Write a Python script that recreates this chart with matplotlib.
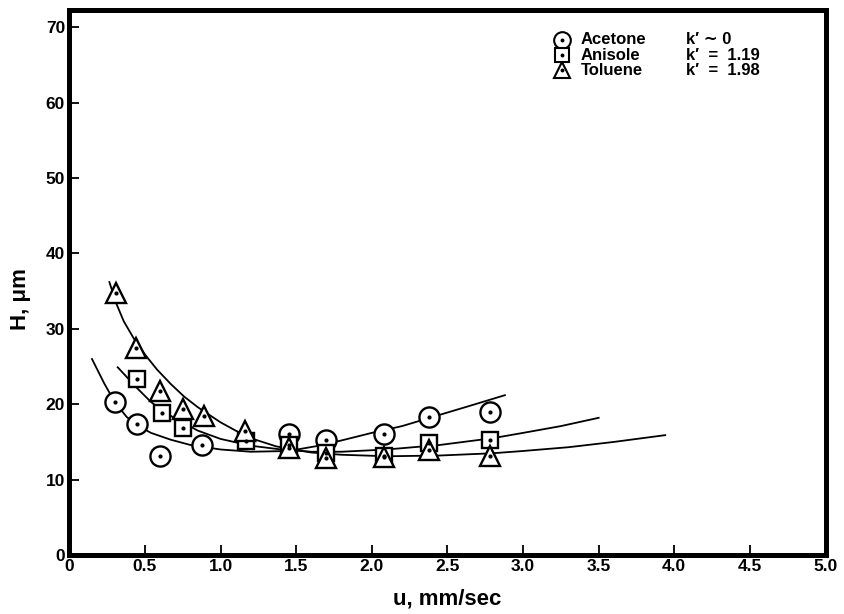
import numpy as np
import matplotlib.pyplot as plt
import matplotlib as mpl

mpl.rcParams.update({
    "font.family": ["Liberation Sans", "DejaVu Sans"],
    "font.weight": "bold",
})

# measured points (u in mm/sec, H in um)
acetone_u = [0.30, 0.45, 0.60, 0.88, 1.45, 1.70, 2.08, 2.38, 2.78]
acetone_h = [20.3, 17.4, 13.1, 14.6, 16.1, 15.2, 16.1, 18.3, 19.0]

anisole_u = [0.45, 0.61, 0.75, 1.17, 1.45, 1.70, 2.08, 2.38, 2.78]
anisole_h = [23.3, 18.8, 16.8, 15.1, 14.6, 13.5, 13.1, 14.8, 15.3]

toluene_u = [0.31, 0.44, 0.60, 0.75, 0.89, 1.16, 1.45, 1.70, 2.08, 2.38, 2.78]
toluene_h = [34.7, 27.5, 21.8, 19.4, 18.5, 16.5, 14.2, 12.9, 13.0, 13.9, 13.2]

# fitted curves
acetone_fit_u = [0.15, 0.23, 0.30, 0.38, 0.46, 0.54, 0.67, 0.80, 1.00, 1.20, 1.45, 1.65,
                 1.80, 2.00, 2.20, 2.45, 2.65, 2.88]
acetone_fit_h = [26.0, 22.8, 20.3, 18.3, 17.1, 16.2, 15.3, 14.6, 14.0, 13.7, 13.8, 14.5,
                 15.2, 16.2, 17.1, 18.6, 19.8, 21.2]

anisole_fit_u = [0.32, 0.45, 0.54, 0.62, 0.70, 0.85, 1.00, 1.20, 1.40, 1.60, 1.80, 2.10,
                 2.45, 2.80, 3.00, 3.25, 3.50]
anisole_fit_h = [24.9, 22.1, 20.3, 19.1, 18.1, 16.5, 15.4, 14.5, 14.0, 13.7, 13.7, 14.0,
                 14.6, 15.5, 16.2, 17.1, 18.2]

toluene_fit_u = [0.265, 0.31, 0.36, 0.43, 0.50, 0.58, 0.67, 0.76, 0.85, 1.00, 1.10, 1.23,
                 1.37, 1.60, 1.80, 2.10, 2.45, 2.80, 3.00, 3.30, 3.60, 3.94]
toluene_fit_h = [36.2, 33.4, 31.0, 28.6, 26.6, 24.6, 22.7, 21.0, 19.6, 17.6, 16.5, 15.3,
                 14.4, 13.6, 13.3, 13.1, 13.2, 13.5, 13.8, 14.3, 15.0, 15.9]

x_ticks = [0, 0.5, 1.0, 1.5, 2.0, 2.5, 3.0, 3.5, 4.0, 4.5, 5.0]
x_ticklabels = ["0", "0.5", "1.0", "1.5", "2.0", "2.5", "3.0", "3.5", "4.0", "4.5", "5.0"]
y_ticks = [0, 10, 20, 30, 40, 50, 60, 70]

legend_names = ["Acetone", "Anisole", "Toluene"]
legend_k = ["k\u2032 \u223c 0", "k\u2032  =  1.19", "k\u2032  =  1.98"]

fig = plt.figure(figsize=(8.45, 6.14), dpi=100)
ax = fig.add_axes([0.082, 0.096, 0.895, 0.888])

for u, h in [(acetone_fit_u, acetone_fit_h), (anisole_fit_u, anisole_fit_h),
             (toluene_fit_u, toluene_fit_h)]:
    ax.plot(u, h, color="black", lw=1.3, zorder=2, solid_joinstyle="round")

style = dict(ls="none", mfc="white", mec="black", mew=1.7, zorder=3)
ax.plot(acetone_u, acetone_h, marker="o", ms=14.5, **style)
ax.plot(anisole_u, anisole_h, marker="s", ms=12, **style)
ax.plot(toluene_u, toluene_h, marker="^", ms=15, **style)
for u, h in [(acetone_u, acetone_h), (anisole_u, anisole_h), (toluene_u, toluene_h)]:
    ax.plot(u, h, ls="none", marker="o", ms=2, color="black", zorder=4)

# legend drawn as text block
leg_y = [68.3, 66.3, 64.3]
leg_markers = [("o", 12), ("s", 10), ("^", 12)]
for y, (m, s), name, k in zip(leg_y, leg_markers, legend_names, legend_k):
    ax.plot([3.26], [y], marker=m, ms=s, ls="none", mfc="white", mec="black", mew=1.5,
            clip_on=False, zorder=3)
    ax.plot([3.26], [y], marker="o", ms=1.8, color="black", zorder=4)
    ax.text(3.38, y, name, fontsize=12, fontweight="bold", va="center", ha="left")
    ax.text(4.08, y, k, fontsize=12, fontweight="bold", va="center", ha="left")

ax.set_xlim(0, 5.0)
ax.set_ylim(0, 72.3)
ax.set_xticks(x_ticks)
ax.set_xticklabels(x_ticklabels)
ax.set_yticks(y_ticks)
ax.tick_params(direction="in", length=7, width=1.3, labelsize=12.5, pad=3)
for lab in ax.get_xticklabels() + ax.get_yticklabels():
    lab.set_fontweight("bold")
for sp in ax.spines.values():
    sp.set_linewidth(3.6)

ax.set_xlabel("u, mm/sec", fontsize=16, fontweight="bold", labelpad=10)
ax.set_ylabel("H, \u03bcm", fontsize=16, fontweight="bold")
ax.yaxis.set_label_coords(-0.05, 0.47)

fig.savefig("out.png", dpi=100)
